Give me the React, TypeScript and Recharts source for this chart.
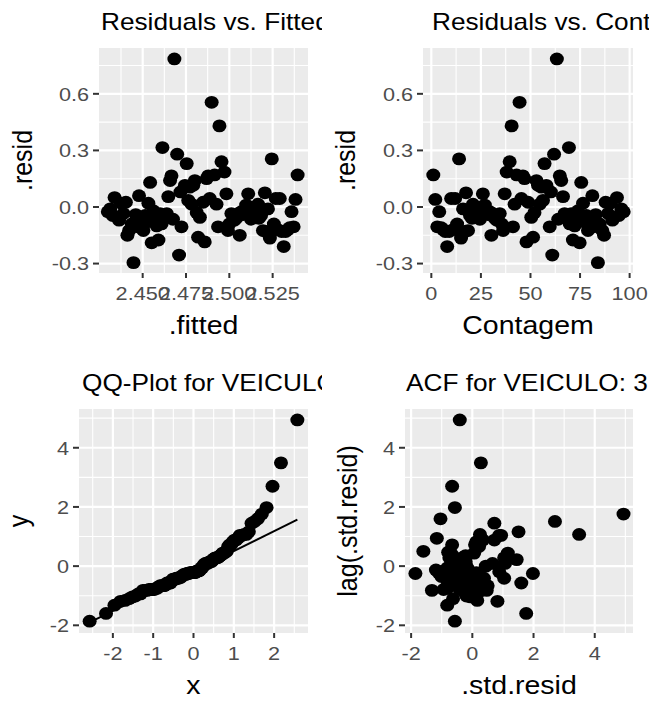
import React from 'react';
import { ScatterChart, Scatter, XAxis, YAxis, CartesianGrid } from 'recharts';

// ---------------- data ----------------
const contagem = [1,2,3,4,5,6,7,8,9,10,11,12,13,14,15,16,17,17.5,18.5,19.5,20.5,21,22,23,24.5,25,26,27,28.5,29.5,30.3,31,32,33,34.5,35.5,36.2,37,38,39.5,40.5,41.2,42,43,44.5,45.4,46.2,47,48,48.8,50.4,51.3,52,53,53.8,54.6,55.5,56.3,57.1,58,59.7,60.3,61,61.9,63.3,64,64.8,65.5,66.4,67.2,68.2,69.4,69.8,70.6,71.4,72.3,73.1,74,74.8,75.6,76.5,77.3,78.2,79,79.8,81.2,81.8,82.9,84,84.9,86.2,87.1,87.9,89.1,90.3,91.3,93.6,94.6,95.8,97];

const resid = [0.17,0.04,-0.105,-0.025,-0.11,-0.12,-0.13,-0.21,-0.13,0.045,-0.12,0.045,-0.09,0.255,-0.165,-0.01,-0.13,
0.075,-0.125,-0.045,-0.06,0.015,-0.035,-0.05,-0.065,0.0,0.07,0.01,
-0.04,-0.025,-0.15,-0.035,-0.06,-0.07,-0.035,-0.09,-0.125,0.07,0.185,
0.24,0.43,-0.105,0.015,0.17,0.555,0.045,0.165,0.15,-0.185,0.025,
-0.055,-0.16,-0.03,0.14,0.115,0.015,0.105,0.035,0.23,0.115,
-0.105,0.08,-0.255,0.28,0.785,-0.065,0.165,0.14,0.055,-0.035,
-0.04,0.315,-0.09,-0.035,-0.175,-0.1,-0.07,-0.02,-0.19,0.13,
0.02,-0.08,-0.045,-0.125,-0.065,0.06,-0.105,-0.04,-0.295,-0.09,
-0.125,-0.15,0.025,-0.035,0.02,-0.07,0.05,-0.045,-0.01,-0.025];

const fitted = [2.5394,2.5382,2.5371,2.5359,2.5348,2.5337,2.5325,2.5314,2.5302,2.5291,2.5280,2.5268,2.5257,2.5245,2.5234,2.5223,2.5211,
2.5205,2.5194,2.5183,2.5171,2.5166,2.5154,2.5143,2.5126,2.5120,2.5109,2.5097,
2.5080,2.5069,2.5060,2.5052,2.5040,2.5029,2.5012,2.5000,2.4992,2.4983,2.4972,
2.4955,2.4943,2.4935,2.4926,2.4915,2.4898,2.4887,2.4878,2.4869,2.4858,2.4849,
2.4830,2.4820,2.4812,2.4801,2.4792,2.4783,2.4772,2.4763,2.4754,2.4744,
2.4724,2.4718,2.4710,2.4699,2.4683,2.4675,2.4666,2.4658,2.4648,2.4639,
2.4627,2.4614,2.4609,2.4600,2.4591,2.4581,2.4572,2.4561,2.4552,2.4543,
2.4533,2.4524,2.4514,2.4504,2.4495,2.4479,2.4472,2.4460,2.4447,2.4437,
2.4422,2.4412,2.4403,2.4389,2.4376,2.4364,2.4338,2.4327,2.4313,2.4299];

const stdResid = [1.07,0.25,-0.66,-0.16,-0.69,-0.75,-0.82,-1.32,-0.82,0.28,-0.75,0.28,-0.57,1.60,-1.04,-0.06,-0.82,
0.47,-0.79,-0.28,-0.38,0.09,-0.22,-0.31,-0.41,0.00,0.44,0.06,
-0.25,-0.16,-0.94,-0.22,-0.38,-0.44,-0.22,-0.57,-0.79,0.44,1.16,
1.51,2.70,-0.66,0.09,1.07,3.49,0.28,1.04,0.94,-1.16,0.16,
-0.35,-1.01,-0.19,0.88,0.72,0.09,0.66,0.22,1.45,0.72,
-0.66,0.50,-1.60,1.76,4.94,-0.41,1.04,0.88,0.35,-0.22,
-0.25,1.98,-0.57,-0.22,-1.10,-0.63,-0.44,-0.13,-1.19,0.82,
0.13,-0.50,-0.28,-0.79,-0.41,0.38,-0.66,-0.25,-1.86,-0.57,
-0.79,-0.94,0.16,-0.22,0.13,-0.44,0.31,-0.28,-0.06,-0.16];

const theoreticalQuantiles = [-2.576,-2.170,-1.960,-1.812,-1.695,-1.598,-1.514,-1.440,-1.372,-1.311,
-1.254,-1.200,-1.150,-1.103,-1.058,-1.015,-0.974,-0.935,-0.896,-0.860,
-0.824,-0.789,-0.755,-0.722,-0.690,-0.659,-0.628,-0.598,-0.568,-0.539,
-0.510,-0.482,-0.454,-0.426,-0.399,-0.372,-0.345,-0.319,-0.292,-0.266,
-0.240,-0.215,-0.189,-0.164,-0.138,-0.113,-0.088,-0.063,-0.038,-0.013,
0.013,0.038,0.063,0.088,0.113,0.138,0.164,0.189,0.215,0.240,
0.266,0.292,0.319,0.345,0.372,0.399,0.426,0.454,0.482,0.510,
0.539,0.568,0.598,0.628,0.659,0.690,0.722,0.755,0.789,0.824,
0.860,0.896,0.935,0.974,1.015,1.058,1.103,1.150,1.200,1.254,
1.311,1.372,1.440,1.514,1.598,1.695,1.812,1.960,2.170,2.576];

const qqLineX = [-2.576, 2.576];
const qqLineY = [-1.90, 1.57];

// ---------------- ticks ----------------
const fittedTicks = [2.45, 2.475, 2.5, 2.525];
const fittedTickLabels = ['2.450', '2.475', '2.500', '2.525'];
const fittedMinor = [2.4375, 2.4625, 2.4875, 2.5125, 2.5375];
const residTicks = [-0.3, 0, 0.3, 0.6];
const residTickLabels = ['-0.3', '0.0', '0.3', '0.6'];
const residMinor = [-0.15, 0.15, 0.45, 0.75];
const contagemTicks = [0, 25, 50, 75, 100];
const contagemTickLabels = ['0', '25', '50', '75', '100'];
const contagemMinor = [12.5, 37.5, 62.5, 87.5];
const qqXTicks = [-2, -1, 0, 1, 2];
const qqXTickLabels = ['-2', '-1', '0', '1', '2'];
const qqXMinor = [-2.5, -1.5, -0.5, 0.5, 1.5, 2.5];
const stdTicks = [-2, 0, 2, 4];
const stdTickLabels = ['-2', '0', '2', '4'];
const stdMinor = [-1, 1, 3, 5];

// ---------------- tables ----------------
const fittedData = fitted.map((f, i) => ({ x: f, y: resid[i] }));
const contagemData = contagem.map((c, i) => ({ x: c, y: resid[i] }));
const sortedStd = [...stdResid].sort((a, b) => a - b);
const qqData = theoreticalQuantiles.map((q, i) => ({ x: q, y: sortedStd[i] }));
const qqLine = qqLineX.map((x, i) => ({ x, y: qqLineY[i] }));
const lagData = stdResid.slice(1).map((s, i) => ({ x: s, y: stdResid[i] }));

// ---------------- styling ----------------
const FONT = '"Liberation Sans", Arial, Helvetica, sans-serif';
const SX = 1.14;
const TICK_FS = 19;
const AXIS_FS = 25;
const TITLE_FS = 23;

const Dot = (p: any) => <ellipse cx={p.cx} cy={p.cy} rx={7} ry={6.4} fill="#000" />;
const NoDot = () => <g />;

const makeTick = (ticks: number[], labels: string[], axis: 'x' | 'y') => (p: any) => {
  const v = p.payload.value;
  const idx = ticks.findIndex((t) => Math.abs(t - v) < 1e-9);
  const s = idx >= 0 ? labels[idx] : String(v);
  return (
    <text
      x={0}
      y={0}
      transform={`translate(${p.x},${p.y}) scale(${SX},1)`}
      textAnchor={axis === 'x' ? 'middle' : 'end'}
      dy={axis === 'x' ? '0.71em' : '0.355em'}
      fontSize={TICK_FS}
      fill="#4D4D4D"
      fontFamily={FONT}
    >
      {s}
    </text>
  );
};

type PanelProps = {
  cellLeft: number;
  cellTop: number;
  cellW: number;
  cellH: number;
  rect: [number, number, number, number]; // left, top, right, bottom (cell coords)
  xDomain: [number, number];
  yDomain: [number, number];
  xTicks: number[];
  xLabels: string[];
  xMinor: number[];
  yTicks: number[];
  yLabels: string[];
  yMinor: number[];
  title: string;
  titleX: number;
  xTitle: string;
  yTitle: string;
  yTitleX: number;
  data: { x: number; y: number }[];
  line?: { x: number; y: number }[];
};

function Panel(props: PanelProps) {
  const { cellLeft, cellTop, cellW, cellH, rect } = props;
  const [pl, pt, pr, pb] = rect;
  const xAxisH = cellH - pb;
  return (
    <div style={{ position: 'absolute', left: cellLeft, top: cellTop, width: cellW, height: cellH }}>
      <ScatterChart
        width={cellW}
        height={cellH}
        margin={{ top: pt, right: cellW - pr, bottom: 0, left: 0 }}
      >
        <CartesianGrid
          fill="#EBEBEB"
          stroke="#FFFFFF"
          strokeWidth={1.1}
          horizontalValues={props.yMinor}
          verticalValues={props.xMinor}
        />
        <CartesianGrid
          stroke="#FFFFFF"
          strokeWidth={2.2}
          horizontalValues={props.yTicks}
          verticalValues={props.xTicks}
        />
        <XAxis
          type="number"
          dataKey="x"
          domain={props.xDomain}
          ticks={props.xTicks}
          interval={0}
          allowDataOverflow
          height={xAxisH}
          axisLine={false}
          tickSize={5}
          tickMargin={9}
          tickLine={{ stroke: '#333333', strokeWidth: 2 }}
          tick={makeTick(props.xTicks, props.xLabels, 'x')}
          label={{
            content: (lp: any) => {
              const vb = lp.viewBox;
              return (
                <text
                  x={0}
                  y={0}
                  transform={`translate(${vb.x + vb.width / 2},${vb.y + 61}) scale(${SX},1)`}
                  textAnchor="middle"
                  fontSize={AXIS_FS}
                  fill="#000"
                  fontFamily={FONT}
                >
                  {props.xTitle}
                </text>
              );
            },
          }}
        />
        <YAxis
          type="number"
          dataKey="y"
          domain={props.yDomain}
          ticks={props.yTicks}
          interval={0}
          allowDataOverflow
          width={pl}
          axisLine={false}
          tickSize={6}
          tickMargin={4}
          tickLine={{ stroke: '#333333', strokeWidth: 2 }}
          tick={makeTick(props.yTicks, props.yLabels, 'y')}
          label={{
            content: (lp: any) => {
              const vb = lp.viewBox;
              return (
                <text
                  x={0}
                  y={0}
                  transform={`translate(${props.yTitleX},${vb.y + vb.height / 2}) scale(${SX},1) rotate(-90)`}
                  textAnchor="middle"
                  fontSize={AXIS_FS}
                  fill="#000"
                  fontFamily={FONT}
                >
                  {props.yTitle}
                </text>
              );
            },
          }}
        />
        <Scatter data={props.data} shape={Dot} isAnimationActive={false} />
        {props.line ? (
          <Scatter
            data={props.line}
            shape={NoDot}
            line={{ stroke: '#000', strokeWidth: 2 }}
            isAnimationActive={false}
          />
        ) : null}
      </ScatterChart>
      <svg
        width={cellW - 4.5}
        height={pt}
        style={{ position: 'absolute', left: 0, top: 0, overflow: 'hidden' }}
      >
        <text
          x={0}
          y={0}
          transform={`translate(${props.titleX},${pt - 18}) scale(${SX},1)`}
          fontSize={TITLE_FS}
          fill="#000"
          fontFamily={FONT}
        >
          {props.title}
        </text>
      </svg>
    </div>
  );
}

export default function App() {
  return (
    <div style={{ position: 'absolute', left: 0, top: 0, width: 653, height: 702, background: '#fff', overflow: 'hidden' }}>
      <Panel
        cellLeft={0}
        cellTop={0}
        cellW={326}
        cellH={351}
        rect={[99, 48, 308, 273]}
        xDomain={[2.4248, 2.5454]}
        yDomain={[-0.35, 0.843]}
        xTicks={fittedTicks}
        xLabels={fittedTickLabels}
        xMinor={fittedMinor}
        yTicks={residTicks}
        yLabels={residTickLabels}
        yMinor={residMinor}
        title="Residuals vs. Fitted"
        titleX={101}
        xTitle=".fitted"
        yTitle=".resid"
        yTitleX={32}
        data={fittedData}
      />
      <Panel
        cellLeft={326}
        cellTop={0}
        cellW={327}
        cellH={351}
        rect={[97, 48, 307, 273]}
        xDomain={[-4.2, 101.7]}
        yDomain={[-0.35, 0.843]}
        xTicks={contagemTicks}
        xLabels={contagemTickLabels}
        xMinor={contagemMinor}
        yTicks={residTicks}
        yLabels={residTickLabels}
        yMinor={residMinor}
        title="Residuals vs. Contagem"
        titleX={106}
        xTitle="Contagem"
        yTitle=".resid"
        yTitleX={29}
        data={contagemData}
      />
      <Panel
        cellLeft={0}
        cellTop={351}
        cellW={326}
        cellH={351}
        rect={[79, 58, 308, 282]}
        xDomain={[-2.84, 2.84]}
        yDomain={[-2.26, 5.31]}
        xTicks={qqXTicks}
        xLabels={qqXTickLabels}
        xMinor={qqXMinor}
        yTicks={stdTicks}
        yLabels={stdTickLabels}
        yMinor={stdMinor}
        title="QQ-Plot for VEICULO: 3"
        titleX={82}
        xTitle="x"
        yTitle="y"
        yTitleX={28}
        data={qqData}
        line={qqLine}
      />
      <Panel
        cellLeft={326}
        cellTop={351}
        cellW={327}
        cellH={351}
        rect={[79, 58, 307, 282]}
        xDomain={[-2.2, 5.25]}
        yDomain={[-2.26, 5.31]}
        xTicks={stdTicks}
        xLabels={stdTickLabels}
        xMinor={stdMinor}
        yTicks={stdTicks}
        yLabels={stdTickLabels}
        yMinor={stdMinor}
        title="ACF for VEICULO: 3"
        titleX={80}
        xTitle=".std.resid"
        yTitle="lag(.std.resid)"
        yTitleX={31}
        data={lagData}
      />
    </div>
  );
}
